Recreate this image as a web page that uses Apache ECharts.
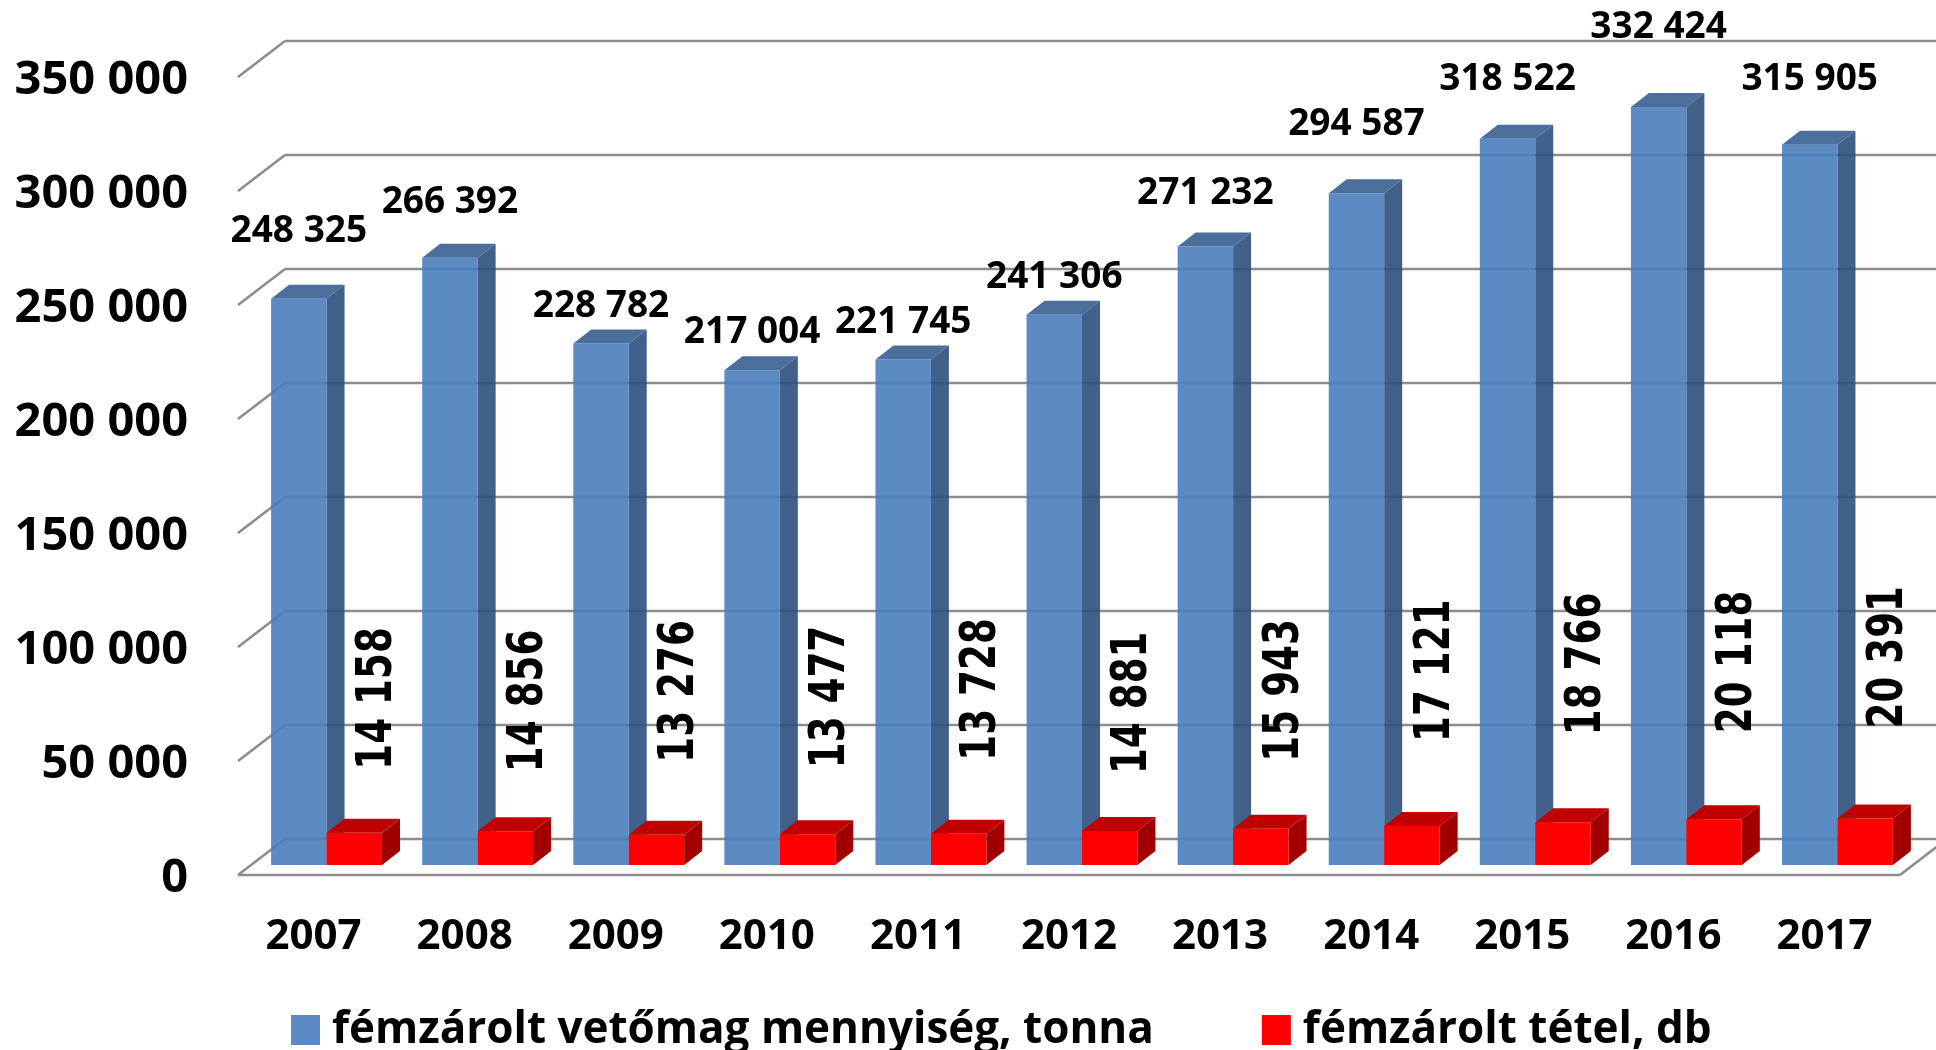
<!DOCTYPE html>
<html>
<head>
<meta charset="utf-8">
<script src="https://cdn.jsdelivr.net/npm/echarts@6/dist/echarts.min.js"></script>
<style>
  html, body { margin: 0; padding: 0; background: #fff; }
  #chart { width: 1936px; height: 1050px; }
</style>
</head>
<body>
<div id="chart"></div>
<script>
// ---- data ----
const years = ['2007', '2008', '2009', '2010', '2011', '2012', '2013', '2014', '2015', '2016', '2017'];
const seedTonnes = [248325, 266392, 228782, 217004, 221745, 241306, 271232, 294587, 318522, 332424, 315905];
const sealedLots = [14158, 14856, 13276, 13477, 13728, 14881, 15943, 17121, 18766, 20118, 20391];
const yTicks = [0, 50000, 100000, 150000, 200000, 250000, 300000, 350000];
const seriesNames = ['fémzárolt vetőmag mennyiség, tonna', 'fémzárolt tétel, db'];

// ---- style / layout ----
const LABEL_FONT = 'Open Sans';
const blueFront = 'rgba(74,126,190,0.9)';
const blueSide = 'rgba(45,80,125,0.9)';
const blueTop = 'rgba(56,94,144,0.9)';
const redFront = '#ff0000';
const redSide = '#a00000';
const redTop = '#c00000';
const gridColor = '#8c8c8c';
const BAR_DX = 18, BAR_DY = -14;          // bar depth
const FRONT_DX = -13, FRONT_DY = 10;      // floor front edge relative to bar plane
const BACK_DX = 34, BACK_DY = -26;        // back wall relative to bar plane
const BAR_FRAC = 0.367;
// label lifts (px above the bar top), per bar, as placed in the original
const blueLabelLift = [67, 55, 37, 38, 37, 37, 53, 69, 59, 80, 65];
const redLabelLift = [63, 59, 72, 66, 73, 57, 67, 84, 87, 86, 90];

const fmt = v => String(v).replace(/\B(?=(\d{3})+(?!\d))/g, ' ');

function barShapes(api, idx, v, isBlue) {
  const top = api.coord([idx, v]);
  const base = api.coord([idx, 0]);
  const band = api.size([1, 0])[0];
  const w = band * BAR_FRAC;
  const x0 = isBlue ? top[0] - w : top[0];
  const x1 = x0 + w;
  const yT = top[1], yB = base[1];
  const fr = isBlue ? blueFront : redFront;
  const sd = isBlue ? blueSide : redSide;
  const tp = isBlue ? blueTop : redTop;
  const children = [
    { type: 'polygon', shape: { points: [[x1, yT], [x1 + BAR_DX, yT + BAR_DY], [x1 + BAR_DX, yB + BAR_DY], [x1, yB]] }, style: { fill: sd } },
    { type: 'polygon', shape: { points: [[x0, yT], [x0 + BAR_DX, yT + BAR_DY], [x1 + BAR_DX, yT + BAR_DY], [x1, yT]] }, style: { fill: tp } },
    { type: 'rect', shape: { x: x0, y: yT, width: w, height: yB - yT }, style: { fill: fr } }
  ];
  return { children, x0, x1, yT, w };
}

const chart = echarts.init(document.getElementById('chart'), null, { renderer: 'canvas' });

const option = {
  backgroundColor: '#ffffff',
  animation: false,
  grid: { left: 251, right: 23, top: 67, bottom: 185, containLabel: false },
  legend: {
    data: seriesNames.map((n, i) => ({ name: n, icon: 'rect', itemStyle: { color: i === 0 ? '#5b8ac5' : '#ff0000' } })),
    left: 286, top: 1003,
    itemWidth: 29, itemHeight: 30, itemGap: 108,
    textStyle: { fontFamily: LABEL_FONT, fontWeight: 'bold', fontSize: 44, color: '#000', lineHeight: 44, padding: [0, 0, 0, 7] },
    selectedMode: false
  },
  xAxis: {
    type: 'category', data: years,
    axisLine: { show: false }, axisTick: { show: false }, splitLine: { show: false },
    axisLabel: { fontFamily: LABEL_FONT, fontWeight: 'bold', fontSize: 42, color: '#000', margin: 72, verticalAlign: 'middle', padding: [0, 26, 0, 0] }
  },
  yAxis: {
    type: 'value', min: 0, max: 350000, interval: 50000,
    axisLine: { show: false }, axisTick: { show: false }, splitLine: { show: false },
    axisLabel: { fontFamily: LABEL_FONT, fontWeight: 'bold', fontSize: 47, color: '#000', margin: 63, verticalAlign: 'top', lineHeight: 28, formatter: v => fmt(v) }
  },
  series: [
    {
      type: 'custom', name: 'grid', z: 1, silent: true,
      data: yTicks.map(v => [0, v]),
      renderItem: function (params, api) {
        const cs = params.coordSys;
        const L = cs.x, R = cs.x + cs.width;
        const y = api.coord([0, api.value(1)])[1];
        const ls = { stroke: gridColor, lineWidth: 2.5 };
        const ch = [
          { type: 'line', shape: { x1: L + BACK_DX, y1: y + BACK_DY, x2: R + BACK_DX + 60, y2: y + BACK_DY }, style: ls },
          { type: 'line', shape: { x1: L + FRONT_DX, y1: y + FRONT_DY, x2: L + BACK_DX, y2: y + BACK_DY }, style: ls }
        ];
        if (api.value(1) === 0) {
          ch.push({ type: 'line', shape: { x1: L + FRONT_DX, y1: y + FRONT_DY, x2: R + FRONT_DX, y2: y + FRONT_DY }, style: ls });
          ch.push({ type: 'line', shape: { x1: R + FRONT_DX, y1: y + FRONT_DY, x2: R + BACK_DX, y2: y + BACK_DY }, style: ls });
        }
        return { type: 'group', children: ch };
      }
    },
    {
      type: 'custom', name: seriesNames[0], z: 2,
      itemStyle: { color: '#5b8ac5' },
      data: seedTonnes.map((v, i) => [i, v]),
      renderItem: function (params, api) {
        const idx = api.value(0), v = api.value(1);
        const b = barShapes(api, idx, v, true);
        b.children.push({
          type: 'text', z2: 10,
          x: b.x0 + b.w / 2, y: b.yT - blueLabelLift[idx],
          style: { text: fmt(v), fontFamily: LABEL_FONT, fontWeight: 'bold', fontSize: 37, fill: '#000', align: 'center', verticalAlign: 'middle' }
        });
        return { type: 'group', children: b.children };
      }
    },
    {
      type: 'custom', name: seriesNames[1], z: 3,
      itemStyle: { color: '#ff0000' },
      data: sealedLots.map((v, i) => [i, v]),
      renderItem: function (params, api) {
        const idx = api.value(0), v = api.value(1);
        const b = barShapes(api, idx, v, false);
        b.children.push({
          type: 'text', z2: 10,
          x: b.x0 + b.w / 2 + 24, y: b.yT - redLabelLift[idx],
          rotation: Math.PI / 2, scaleX: 0.76,
          style: { text: fmt(v), fontFamily: 'DejaVu Sans', fontWeight: 'bold', fontSize: 49, fill: '#000', align: 'left', verticalAlign: 'middle' }
        });
        return { type: 'group', children: b.children };
      }
    }
  ]
};
chart.setOption(option);
</script>
</body>
</html>
